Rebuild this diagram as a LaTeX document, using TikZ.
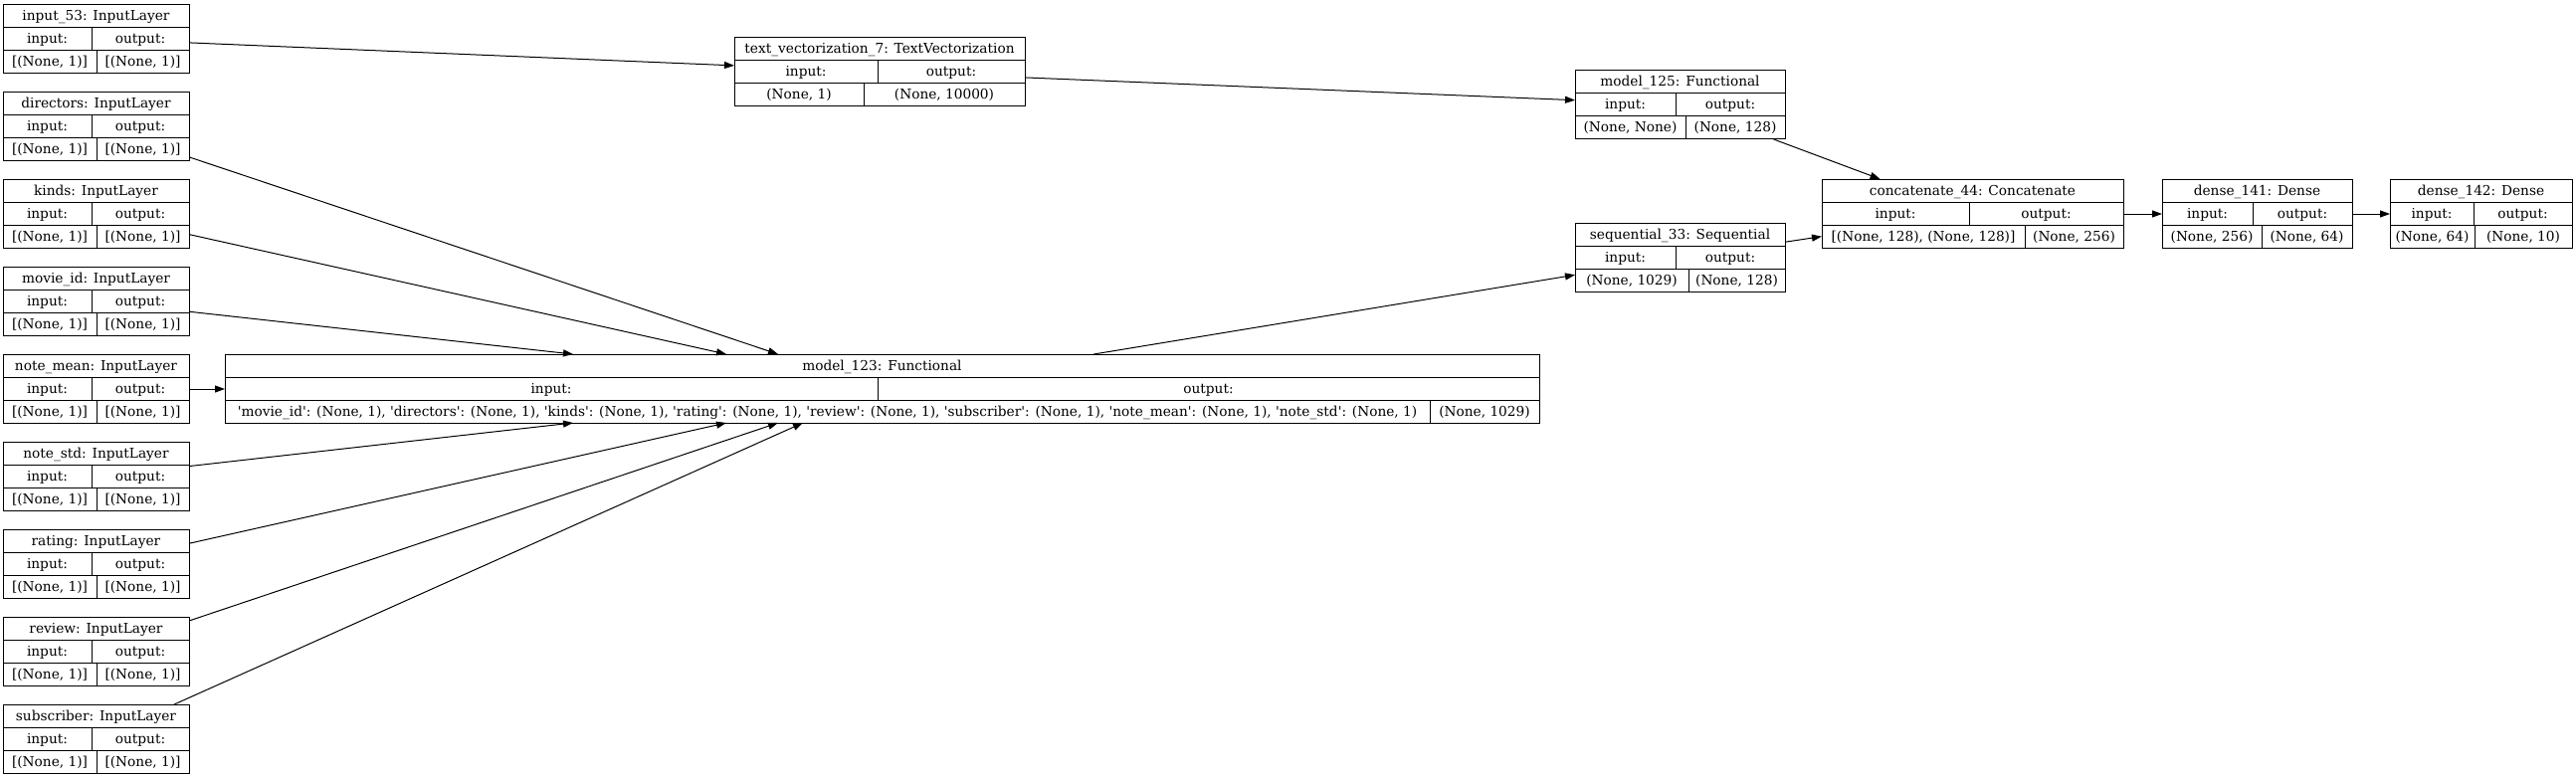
\documentclass[tikz,border=0pt]{standalone}
\usepackage{fontspec}
\newfontfamily\dvs{DejaVu Serif}
\usetikzlibrary{arrows.meta}
\tikzset{
 box/.style={draw, line width=1pt, inner sep=0pt, rectangle},
 cell/.style={line width=1pt},
 txt/.style={inner sep=0pt, anchor=base, font=\dvs\fontsize{13.7}{16}\selectfont},
 arr/.style={line width=1pt, -{Triangle[length=10pt,width=7pt]}},
}
\newcommand\kbox[9]{%
 \node[box, minimum width={(#3-#2)*1pt}, minimum height=69pt, anchor=north west] (#1) at (#2,#4) {};
 \draw[cell] (#2,#4+23) -- (#3,#4+23) (#2,#4+46) -- (#3,#4+46)
   (#5,#4+23) -- (#5,#4+46) (#6,#4+46) -- (#6,#4+69);
 \node[txt] (#1-t) at ({(#2+#3)/2},#4+16.5) {#7};
 \node[txt] (#1-i) at ({(#2+#5)/2},#4+39.5) {input:};
 \node[txt] (#1-o) at ({(#5+#3)/2},#4+39.5) {output:};
 \node[txt] (#1-iv) at ({(#2+#6)/2},#4+62.5) {#8};
 \node[txt] (#1-ov) at ({(#6+#3)/2},#4+62.5) {#9};
}
\begin{document}
\begin{tikzpicture}[x=1pt,y=-1pt]
\useasboundingbox (0,0) rectangle (2589,782);
\kbox{in53}{3}{190}{4}{92}{97}{input\_53: InputLayer}{[(None, 1)]}{[(None, 1)]}
\kbox{directors}{3}{190}{92}{92}{97}{directors: InputLayer}{[(None, 1)]}{[(None, 1)]}
\kbox{kinds}{3}{190}{180}{92}{97}{kinds: InputLayer}{[(None, 1)]}{[(None, 1)]}
\kbox{movieid}{3}{190}{268}{92}{97}{movie\_id: InputLayer}{[(None, 1)]}{[(None, 1)]}
\kbox{notemean}{3}{190}{356}{92}{97}{note\_mean: InputLayer}{[(None, 1)]}{[(None, 1)]}
\kbox{notestd}{3}{190}{444}{92}{97}{note\_std: InputLayer}{[(None, 1)]}{[(None, 1)]}
\kbox{rating}{3}{190}{532}{92}{97}{rating: InputLayer}{[(None, 1)]}{[(None, 1)]}
\kbox{review}{3}{190}{620}{92}{97}{review: InputLayer}{[(None, 1)]}{[(None, 1)]}
\kbox{subscriber}{3}{190}{708}{92}{97}{subscriber: InputLayer}{[(None, 1)]}{[(None, 1)]}
\kbox{tv}{738}{1030}{37}{882}{868}{text\_vectorization\_7: TextVectorization}{(None, 1)}{(None, 10000)}
\kbox{m125}{1583}{1794}{70}{1684}{1694}{model\_125: Functional}{(None, None)}{(None, 128)}
\kbox{seq}{1583}{1794}{224}{1684}{1697}{sequential\_33: Sequential}{(None, 1029)}{(None, 128)}
\kbox{concat}{1831}{2134}{180}{1979}{2035}{concatenate\_44: Concatenate}{[(None, 128), (None, 128)]}{(None, 256)}
\kbox{d141}{2173}{2364}{180}{2264}{2273}{dense\_141: Dense}{(None, 256)}{(None, 64)}
\kbox{d142}{2402}{2585}{180}{2486}{2487}{dense\_142: Dense}{(None, 64)}{(None, 10)}
\kbox{m123}{226}{1547}{356}{882}{1437}{model\_123: Functional}{'movie\_id': (None, 1), 'directors': (None, 1), 'kinds': (None, 1), 'rating': (None, 1), 'review': (None, 1), 'subscriber': (None, 1), 'note\_mean': (None, 1), 'note\_std': (None, 1)}{(None, 1029)}
\coordinate (t1) at (576,356);
\coordinate (t2) at (730,356);
\coordinate (t3) at (782,356);
\coordinate (b1) at (576,425);
\coordinate (b2) at (730,425);
\coordinate (b3) at (782,425);
\coordinate (b4) at (807,425);
\draw[arr] (in53) -- (tv);
\draw[arr] (tv) -- (m125);
\draw[arr] (m125) -- (concat);
\draw[arr] (seq) -- (concat);
\draw[arr] (concat) -- (d141);
\draw[arr] (d141) -- (d142);
\draw[arr] (m123) -- (seq);
\draw[arr] (notemean) -- (m123);
\draw[arr] (directors) -- (t3);
\draw[arr] (kinds) -- (t2);
\draw[arr] (movieid) -- (t1);
\draw[arr] (notestd) -- (b1);
\draw[arr] (rating) -- (b2);
\draw[arr] (review) -- (b3);
\draw[arr] (subscriber) -- (b4);
\end{tikzpicture}
\end{document}
